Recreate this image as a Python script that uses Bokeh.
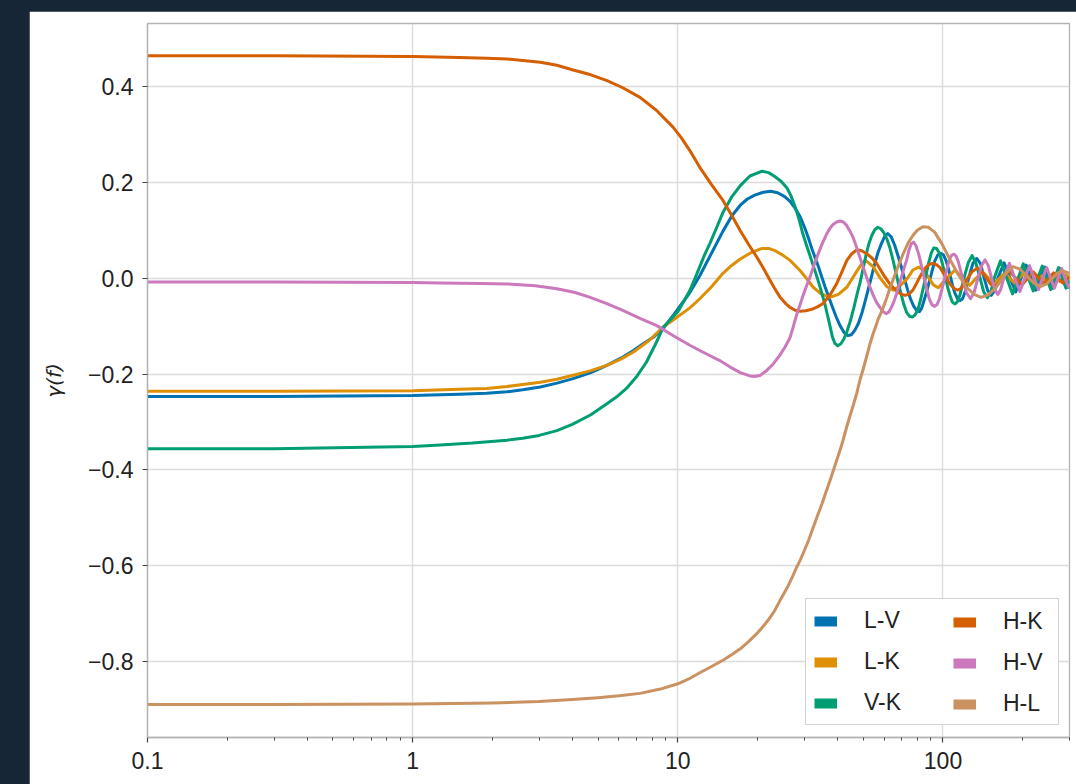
from bokeh.plotting import figure
from bokeh.models import Range1d, FixedTicker, CustomJSTickFormatter, Legend, LegendItem
from bokeh.embed import file_html
from bokeh.resources import INLINE

# Overlap reduction function gamma(f) for each detector pair, as (frequency [Hz], gamma) points
L_V = [(0.1, -0.247), (0.3, -0.247), (1.0, -0.245), (1.5, -0.242), (1.9, -0.240), (2.27, -0.237),
       (2.6, -0.233), (3.03, -0.227), (3.5, -0.219), (4.0, -0.210), (4.7, -0.197), (5.4, -0.182),
       (6.1, -0.167), (6.8, -0.151), (7.4, -0.137), (8.1, -0.123), (8.8, -0.105), (9.6, -0.078),
       (10.3, -0.055), (11.1, -0.030), (12.1, 0.005), (13.2, 0.045), (14.8, 0.098), (16.0, 0.130),
       (17.2, 0.152), (18.3, 0.165), (19.5, 0.173), (21.0, 0.179), (22.4, 0.181), (23.8, 0.178),
       (25.3, 0.170), (26.5, 0.160), (27.6, 0.147), (29.0, 0.127), (30.2, 0.103), (31.1, 0.083),
       (32.0, 0.062), (33.8, 0.026), (35.9, -0.018), (38.1, -0.057), (39.5, -0.080), (40.9, -0.099),
       (42.3, -0.113), (43.8, -0.120), (45.1, -0.118), (46.5, -0.109), (48.0, -0.094), (49.4, -0.074),
       (50.7, -0.051), (52.1, -0.026), (53.7, 0.002), (55.3, 0.030), (57.0, 0.055), (58.8, 0.074),
       (60.3, 0.087), (61.9, 0.093), (63.8, 0.086), (65.8, 0.068), (67.8, 0.045), (69.9, 0.020),
       (71.8, -0.004), (73.7, -0.026), (75.6, -0.045), (77.6, -0.059), (79.5, -0.067), (81.5, -0.070),
       (83.2, -0.062), (85, -0.045), (87, -0.026), (89, -0.005), (91, 0.015), (93, 0.035),
       (95.5, 0.048), (98, 0.052), (100.5, 0.048), (103, 0.035), (105, 0.018), (107, 0.0),
       (109, -0.018), (111, -0.032), (113.5, -0.043), (116, -0.047), (118.5, -0.043), (121, -0.030),
       (125, 0.0), (129.5, 0.030), (134, 0.041), (138.5, 0.030), (143, 0.0), (147.5, -0.026),
       (152, -0.036), (156.5, -0.026), (161, 0.0), (170, 0.032), (179, 0.0), (188, -0.029), (197, 0.0),
       (206, 0.027), (215, 0.0), (224, -0.025), (233, 0.0), (242, 0.023), (251, 0.0), (260, -0.021),
       (269, 0.0), (278, 0.020), (287, 0.0), (296, -0.019), (300, -0.018)]

L_K = [(0.1, -0.236), (0.3, -0.236), (1.0, -0.235), (1.5, -0.232), (1.9, -0.230), (2.27, -0.226),
       (2.6, -0.222), (3.03, -0.217), (3.5, -0.211), (4.0, -0.203), (4.7, -0.193), (5.4, -0.182),
       (6.1, -0.169), (6.8, -0.154), (7.8, -0.130), (8.8, -0.102), (9.9, -0.082), (11.1, -0.062),
       (12.1, -0.043), (13.4, -0.018), (14.8, 0.010), (16.0, 0.027), (17.2, 0.040), (19.0, 0.054),
       (20.8, 0.062), (22.0, 0.062), (23.1, 0.058), (24.7, 0.049), (26.5, 0.037), (28.9, 0.016),
       (30.5, 0.0), (32.4, -0.019), (34.7, -0.033), (37.5, -0.040), (40.3, -0.034), (43.4, -0.019),
       (45.0, -0.005), (47.0, 0.012), (49.0, 0.027), (51.1, 0.037), (54.5, 0.024), (58, 0.0),
       (61.5, -0.018), (65, -0.025), (69, -0.016), (73.5, 0.0), (77, 0.017), (81, 0.023), (85, 0.015),
       (88.5, 0.0), (92, -0.014), (96, -0.020), (103.5, 0.0), (111, 0.017), (118.5, 0.0),
       (126, -0.015), (133.5, 0.0), (141, 0.013), (148.5, 0.0), (156, -0.012), (163.5, 0.0),
       (171, 0.011), (178.5, 0.0), (186, -0.010), (193.5, 0.0), (201, 0.009), (208.5, 0.0),
       (216, -0.009), (223.5, 0.0), (231, 0.008), (238.5, 0.0), (246, -0.008), (253.5, 0.0),
       (261, 0.007), (268.5, 0.0), (276, -0.007), (283.5, 0.0), (291, 0.007), (300, 0.0)]

V_K = [(0.1, -0.356), (0.3, -0.356), (1.0, -0.351), (1.27, -0.348), (1.68, -0.344), (2.27, -0.338),
       (2.6, -0.334), (3.0, -0.328), (3.5, -0.318), (4.0, -0.305), (4.7, -0.285), (5.4, -0.262),
       (5.9, -0.247), (6.4, -0.230), (7.0, -0.205), (7.6, -0.176), (8.2, -0.140), (8.8, -0.103),
       (10.0, -0.070), (10.5, -0.050), (11.1, -0.026), (11.6, -0.001), (12.1, 0.024), (12.6, 0.048),
       (13.2, 0.072), (14.0, 0.105), (14.8, 0.137), (16.0, 0.170), (17.2, 0.193), (18.7, 0.213),
       (20.8, 0.223), (22.0, 0.220), (23.2, 0.212), (24.5, 0.202), (25.8, 0.188), (26.7, 0.172),
       (27.6, 0.151), (28.6, 0.124), (29.6, 0.093), (30.5, 0.070), (31.5, 0.047), (32.5, 0.024),
       (33.5, 0.002), (34.7, -0.026), (35.9, -0.055), (36.7, -0.078), (37.5, -0.100), (38.3, -0.123),
       (39.1, -0.136), (40.1, -0.141), (41.2, -0.137), (42.3, -0.127), (43.4, -0.112), (44.7, -0.090),
       (46.1, -0.062), (47.3, -0.036), (48.6, -0.011), (49.9, 0.018), (51.2, 0.047), (52.5, 0.071),
       (53.9, 0.089), (55.3, 0.101), (56.8, 0.106), (58.3, 0.103), (59.8, 0.095), (61.4, 0.082),
       (63.0, 0.064), (64.7, 0.039), (66.4, 0.012), (67.8, -0.010), (69.3, -0.030), (71.1, -0.054),
       (73.0, -0.072), (75.0, -0.080), (76.9, -0.081), (78.6, -0.076), (80.4, -0.066), (82.5, -0.043),
       (84.7, -0.015), (86.5, 0.010), (88.4, 0.033), (90.3, 0.052), (92.3, 0.063), (94.5, 0.062),
       (97, 0.052), (99.5, 0.030), (102, 0.004), (104, -0.018), (106.5, -0.038), (108.5, -0.050),
       (111, -0.054), (113.5, -0.049), (116, -0.034), (118, -0.017), (120, 0.0), (124.5, 0.032),
       (128.8, 0.047), (133, 0.032), (138, 0.0), (142.5, -0.029), (147, -0.041), (151.5, -0.029),
       (156, 0.0), (164.8, 0.036), (174, 0.0), (183, -0.033), (192, 0.0), (200.8, 0.030), (210, 0.0),
       (219, -0.027), (228, 0.0), (236.8, 0.025), (246, 0.0), (255, -0.024), (264, 0.0),
       (272.8, 0.022), (282, 0.0), (291, -0.021), (300, -0.005)]

H_K = [(0.1, 0.464), (0.3, 0.464), (1.0, 0.462), (1.5, 0.460), (1.9, 0.4585), (2.27, 0.457),
       (2.6, 0.454), (3.03, 0.450), (3.5, 0.444), (4.03, 0.434), (4.7, 0.424), (5.41, 0.412),
       (6.2, 0.397), (7.2, 0.377), (8.3, 0.350), (9.59, 0.315), (10.3, 0.293), (11.1, 0.266),
       (12.1, 0.231), (13.4, 0.195), (14.8, 0.162), (16.0, 0.130), (17.2, 0.099), (18.5, 0.070),
       (19.9, 0.043), (21.0, 0.021), (22.0, 0.001), (23.1, -0.020), (24.3, -0.040), (25.4, -0.052),
       (26.5, -0.061), (27.7, -0.067), (28.9, -0.069), (30.4, -0.068), (32.0, -0.065), (33.6, -0.060),
       (35.3, -0.053), (37.5, -0.035), (39.7, -0.012), (41.5, 0.012), (43.4, 0.037), (45.3, 0.051),
       (47.4, 0.059), (49.4, 0.057), (51.5, 0.051), (54.0, 0.042), (56.3, 0.030), (59.5, 0.008),
       (63.0, -0.012), (65.5, -0.022), (68, -0.030), (70, -0.034), (72, -0.036), (74.5, -0.033),
       (77, -0.025), (79, -0.014), (81, -0.002), (83.5, 0.011), (86, 0.022), (89, 0.029), (92, 0.031),
       (95, 0.027), (97.5, 0.022), (100, 0.012), (103, 0.0), (105.5, -0.010), (108.5, -0.018),
       (111, -0.023), (114, -0.025), (117, -0.021), (120, -0.012), (124, 0.0), (129, 0.014),
       (135, 0.021), (140, 0.014), (146, 0.0), (151, -0.012), (157, -0.018), (162, -0.012), (167, 0.0),
       (177, 0.016), (188, 0.0), (199, -0.014), (209, 0.0), (219, 0.013), (230, 0.0), (241, -0.012),
       (251, 0.0), (261, 0.011), (272, 0.0), (283, -0.010), (300, 0.002)]

H_V = [(0.1, -0.008), (0.3, -0.008), (1.0, -0.009), (1.27, -0.010), (1.8, -0.011), (2.27, -0.012),
       (2.9, -0.016), (3.5, -0.022), (4.1, -0.030), (4.67, -0.040), (5.4, -0.053), (6.23, -0.068),
       (7.2, -0.084), (8.33, -0.099), (9.62, -0.120), (11.1, -0.140), (12.1, -0.151), (14.4, -0.172),
       (15.7, -0.185), (17.2, -0.197), (18.7, -0.204), (19.5, -0.205), (20.4, -0.203), (21.6, -0.193),
       (22.9, -0.179), (24.3, -0.160), (25.4, -0.143), (26.5, -0.124), (27.2, -0.103), (28.0, -0.078),
       (28.8, -0.058), (29.6, -0.038), (30.5, -0.018), (31.5, 0.002), (32.6, 0.027), (33.8, 0.050),
       (35.1, 0.073), (36.4, 0.092), (37.5, 0.104), (38.5, 0.112), (39.7, 0.117), (40.9, 0.119),
       (42.1, 0.117), (43.3, 0.110), (44.5, 0.099), (45.8, 0.085), (47.1, 0.066), (48.5, 0.045),
       (50.0, 0.023), (51.5, 0.002), (53.0, -0.018), (54.5, -0.035), (56.1, -0.050), (57.8, -0.061),
       (59.5, -0.070), (61.2, -0.074), (62.6, -0.070), (64.0, -0.060), (65.4, -0.048), (66.8, -0.033),
       (68.3, -0.015), (69.8, 0.003), (71.3, 0.021), (72.9, 0.037), (74.4, 0.058), (76, 0.072),
       (77.5, 0.075), (79, 0.068), (81, 0.050), (83, 0.025), (85, 0.0), (87, -0.025), (89, -0.045),
       (91, -0.056), (93, -0.059), (95, -0.055), (97, -0.043), (99, -0.024), (101.5, 0.0),
       (104, 0.024), (106, 0.040), (108, 0.048), (110, 0.050), (112, 0.046), (114, 0.036),
       (116, 0.020), (118.5, 0.0), (122.5, -0.030), (127, -0.043), (131, -0.030), (135.5, 0.0),
       (140, 0.027), (144, 0.038), (148, 0.027), (152.5, 0.0), (157, -0.024), (161, -0.034),
       (165, -0.024), (169.5, 0.0), (178, 0.031), (186.5, 0.0), (195, -0.028), (203.5, 0.0),
       (212, 0.026), (220.5, 0.0), (229, -0.024), (237.5, 0.0), (246, 0.022), (254.5, 0.0),
       (263, -0.021), (271.5, 0.0), (280, 0.020), (288.5, 0.0), (297, -0.018), (300, -0.016)]

H_L = [(0.1, -0.889), (0.3, -0.889), (1, -0.888), (2, -0.886), (3, -0.883), (4, -0.879), (5, -0.875),
       (6, -0.871), (7.2, -0.866), (8.6, -0.857), (10, -0.846), (11, -0.836), (12.1, -0.823),
       (13.3, -0.811), (14.8, -0.797), (16, -0.785), (17.2, -0.773), (18.4, -0.759), (19.8, -0.742),
       (21, -0.726), (22, -0.712), (23.1, -0.695), (24.3, -0.672), (25, -0.660), (26, -0.643),
       (27, -0.624), (28, -0.604), (29, -0.587), (30, -0.568), (31.2, -0.545), (32.4, -0.520),
       (33.7, -0.494), (35, -0.470), (36.2, -0.446), (37.5, -0.422), (38.7, -0.399), (40, -0.375),
       (41.6, -0.346), (43.3, -0.311), (44.6, -0.287), (46, -0.263), (47.3, -0.240), (48.6, -0.213),
       (50, -0.190), (51.5, -0.164), (53, -0.138), (54.5, -0.116), (56, -0.098), (57, -0.085),
       (58.2, -0.074), (59.5, -0.061), (61.2, -0.043), (63, -0.022), (65, -0.002), (67, 0.018),
       (70.7, 0.050), (74, 0.074), (77, 0.089), (80, 0.100), (84, 0.107), (88, 0.106), (93, 0.096),
       (99, 0.072), (106, 0.040), (114, 0.008), (122.6, -0.019), (131, -0.034), (139, -0.040),
       (148, -0.035), (159, -0.019), (171, 0.008), (184, 0.024), (196, 0.018), (209, 0.002),
       (222, -0.012), (234, -0.017), (246, -0.012), (259, 0.0), (271, 0.011), (284, 0.015),
       (300, 0.010)]

PAIRS = ["L-V", "L-K", "V-K", "H-K", "H-V", "H-L"]
CURVES = [L_V, L_K, V_K, H_K, H_V, H_L]
COLORS = ["#0173B2", "#DE8F05", "#029E73", "#D55E00", "#CC78BC", "#CA9161"]

X_MAJOR = [0.1, 1, 10, 100]
X_MINOR = [0.2, 0.3, 0.4, 0.5, 0.6, 0.7, 0.8, 0.9, 2, 3, 4, 5, 6, 7, 8, 9,
           20, 30, 40, 50, 60, 70, 80, 90, 200, 300]
Y_MAJOR = [-0.8, -0.6, -0.4, -0.2, 0.0, 0.2, 0.4]

FONT = "Liberation Sans"
TEXT = "#222222"
FRAME = "#b3b3b3"

p = figure(width=1047, height=773, x_axis_type="log",
           x_range=Range1d(0.1, 300), y_range=Range1d(-0.958, 0.531),
           output_backend="svg", toolbar_location=None,
           min_border_left=118, min_border_right=7, min_border_top=12, min_border_bottom=47)

p.background_fill_color = "white"
p.border_fill_color = "white"
p.outline_line_color = FRAME
p.outline_line_width = 1.3

p.xaxis.ticker = FixedTicker(ticks=X_MAJOR, minor_ticks=X_MINOR)
p.yaxis.ticker = FixedTicker(ticks=Y_MAJOR)
p.xgrid.ticker = FixedTicker(ticks=X_MAJOR)
p.ygrid.ticker = FixedTicker(ticks=Y_MAJOR)
p.grid.grid_line_color = "#dcdcdc"
p.grid.grid_line_width = 1.4

p.xaxis.formatter = CustomJSTickFormatter(code="return tick < 1 ? tick.toFixed(1) : tick.toFixed(0);")
p.yaxis.formatter = CustomJSTickFormatter(
    code="return (tick < -1e-9 ? '\\u2212' : '') + Math.abs(tick).toFixed(1);")

for ax in (p.xaxis, p.yaxis):
    ax.axis_line_color = FRAME
    ax.axis_line_width = 1.3
    ax.major_tick_line_color = "#444444"
    ax.major_tick_line_width = 1.2
    ax.major_tick_in = 0
    ax.major_tick_out = 5
    ax.major_label_text_font = FONT
    ax.major_label_text_font_size = "23px"
    ax.major_label_text_color = TEXT
    ax.major_label_standoff = 9

p.xaxis.minor_tick_line_color = "#444444"
p.xaxis.minor_tick_line_width = 1.0
p.xaxis.minor_tick_in = 0
p.xaxis.minor_tick_out = 3
p.yaxis.minor_tick_line_color = None

p.yaxis.axis_label = "γ(f)"
p.yaxis.axis_label_text_font = "DejaVu Sans"
p.yaxis.axis_label_text_font_style = "italic"
p.yaxis.axis_label_text_font_size = "20px"
p.yaxis.axis_label_text_color = TEXT
p.yaxis.axis_label_standoff = 19

for color, pts in zip(COLORS, CURVES):
    freq = [f for f, _ in pts]
    gamma = [g for _, g in pts]
    p.line(freq, gamma, line_width=3.0, line_color=color, line_join="round")

# thick colour bars for the key; their data sit left of the visible x range
swatches = {}
for name, color in zip(PAIRS, COLORS):
    swatches[name] = p.line(x=[0.001, 0.002], y=[0.0, 0.0], line_width=10, line_color=color)


def make_legend(names, loc, label_width, framed):
    leg = Legend(items=[LegendItem(label=n, renderers=[swatches[n]]) for n in names],
                 location=loc, orientation="vertical",
                 label_text_font=FONT, label_text_font_size="23px", label_text_color=TEXT,
                 glyph_width=23, glyph_height=26, label_height=26, label_width=label_width,
                 label_standoff=27, spacing=14, padding=8, margin=0)
    if framed:
        leg.border_line_color = "#a8a8a8"
        leg.border_line_width = 1.5
        leg.background_fill_color = "white"
        leg.background_fill_alpha = 1.0
    else:
        leg.border_line_alpha = 0.0
        leg.background_fill_alpha = 0.0
    return leg


p.add_layout(make_legend(PAIRS[:3], (658, 12), 186, True))
p.add_layout(make_legend(PAIRS[3:], (798, 12), 40, False))

page_style = """
{% block postamble %}
<style>
html, body { margin: 0; padding: 0; background: #172637; }
body { padding: 11px 0 0 29px; }
</style>
{% endblock %}
"""

open("out.html", "w").write(file_html(p, INLINE, title="gamma(f)", template=page_style))
